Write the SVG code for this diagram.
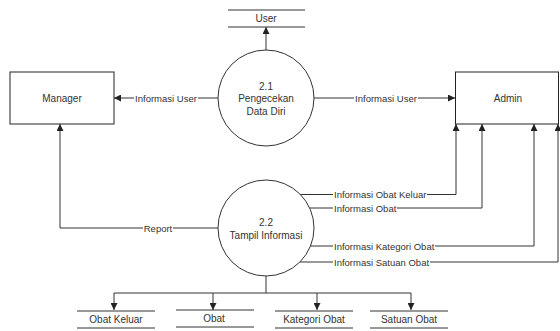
<svg xmlns="http://www.w3.org/2000/svg" width="560" height="331" viewBox="0 0 560 331">
<defs>
<marker id="arr" viewBox="0 0 10 10" refX="10" refY="5" markerWidth="7" markerHeight="7" markerUnits="userSpaceOnUse" orient="auto">
<path d="M0,0 L10,5 L0,10 z" fill="#222"/>
</marker>
<style>
.box{fill:#fff;stroke:#222;stroke-width:1}
.proc{fill:#fff;stroke:#333;stroke-width:1}
.store{stroke:#333;stroke-width:1}
.ln{fill:none;stroke:#333;stroke-width:1;marker-end:url(#arr)}
.ln0{fill:none;stroke:#333;stroke-width:1}
.t{font-family:"Liberation Sans",Arial,sans-serif;font-size:10px;fill:#333;text-anchor:middle;dominant-baseline:central}
.lb{font-family:"Liberation Sans",Arial,sans-serif;font-size:9.5px;fill:#333;dominant-baseline:central}
.bg{fill:#fff}
.mid{text-anchor:middle}
</style>
</defs>
<g id="connectors">
<path class="ln" d="M266,50 V27"/>
<path class="ln" d="M218,98 H114"/>
<path class="ln" d="M314,98 H455"/>
<path class="ln" d="M218,228 H60 V124"/>
<path class="ln" d="M300,194.5 H456 V124"/>
<path class="ln" d="M309.6,208 H482 V124"/>
<path class="ln" d="M309.5,246 H534 V124"/>
<path class="ln" d="M300,262 H558 V124"/>
<path class="ln0" d="M266,276 V293"/>
<path class="ln0" d="M114,293 H411"/>
<path class="ln" d="M114,293 V310"/>
<path class="ln" d="M213,293 V310"/>
<path class="ln" d="M317,293 V310"/>
<path class="ln" d="M411,293 V310"/>
<rect class="bg" x="134" y="92" width="64" height="12"/>
<rect class="bg" x="354" y="92" width="64" height="12"/>
<rect class="bg" x="143" y="222" width="30" height="12"/>
<rect class="bg" x="333" y="188.5" width="94" height="12"/>
<rect class="bg" x="333" y="202" width="64" height="12"/>
<rect class="bg" x="333" y="240" width="102" height="12"/>
<rect class="bg" x="333" y="256" width="97" height="12"/>
<text class="lb mid" x="166" y="98">Informasi User</text>
<text class="lb mid" x="386" y="98">Informasi User</text>
<text class="lb mid" x="158" y="228">Report</text>
<text class="lb" x="334" y="194.5">Informasi Obat Keluar</text>
<text class="lb" x="334" y="208">Informasi Obat</text>
<text class="lb" x="334" y="246">Informasi Kategori Obat</text>
<text class="lb" x="334" y="262">Informasi Satuan Obat</text>
</g>
<g id="user">
<line class="store" x1="228" y1="10" x2="305" y2="10"/>
<line class="store" x1="228" y1="27" x2="305" y2="27"/>
<text class="t" x="266" y="18">User</text>
</g>
<g id="manager">
<rect class="box" x="10" y="72" width="104" height="52"/>
<text class="t" x="62" y="98">Manager</text>
</g>
<g id="admin">
<rect class="box" x="455.5" y="72" width="103" height="52"/>
<text class="t" x="508" y="98">Admin</text>
</g>
<g id="p21">
<circle class="proc" cx="266" cy="98" r="48"/>
<text class="t" x="266" y="86">2.1</text>
<text class="t" x="266" y="98.5">Pengecekan</text>
<text class="t" x="266" y="111">Data Diri</text>
</g>
<g id="p22">
<circle class="proc" cx="266" cy="228" r="48"/>
<text class="t" x="266" y="222">2.2</text>
<text class="t" x="266" y="235">Tampil Informasi</text>
</g>
<g id="obat-keluar">
<line class="store" x1="77" y1="311" x2="155" y2="311"/>
<line class="store" x1="77" y1="328" x2="155" y2="328"/>
<text class="t" x="116" y="319.5">Obat Keluar</text>
</g>
<g id="obat">
<line class="store" x1="176" y1="310" x2="254" y2="310"/>
<line class="store" x1="176" y1="327" x2="254" y2="327"/>
<text class="t" x="214" y="318">Obat</text>
</g>
<g id="kategori-obat">
<line class="store" x1="275" y1="311" x2="353" y2="311"/>
<line class="store" x1="275" y1="328" x2="353" y2="328"/>
<text class="t" x="314" y="319">Kategori Obat</text>
</g>
<g id="satuan-obat">
<line class="store" x1="370" y1="311" x2="448" y2="311"/>
<line class="store" x1="370" y1="328" x2="448" y2="328"/>
<text class="t" x="409" y="319">Satuan Obat</text>
</g>
</svg>
